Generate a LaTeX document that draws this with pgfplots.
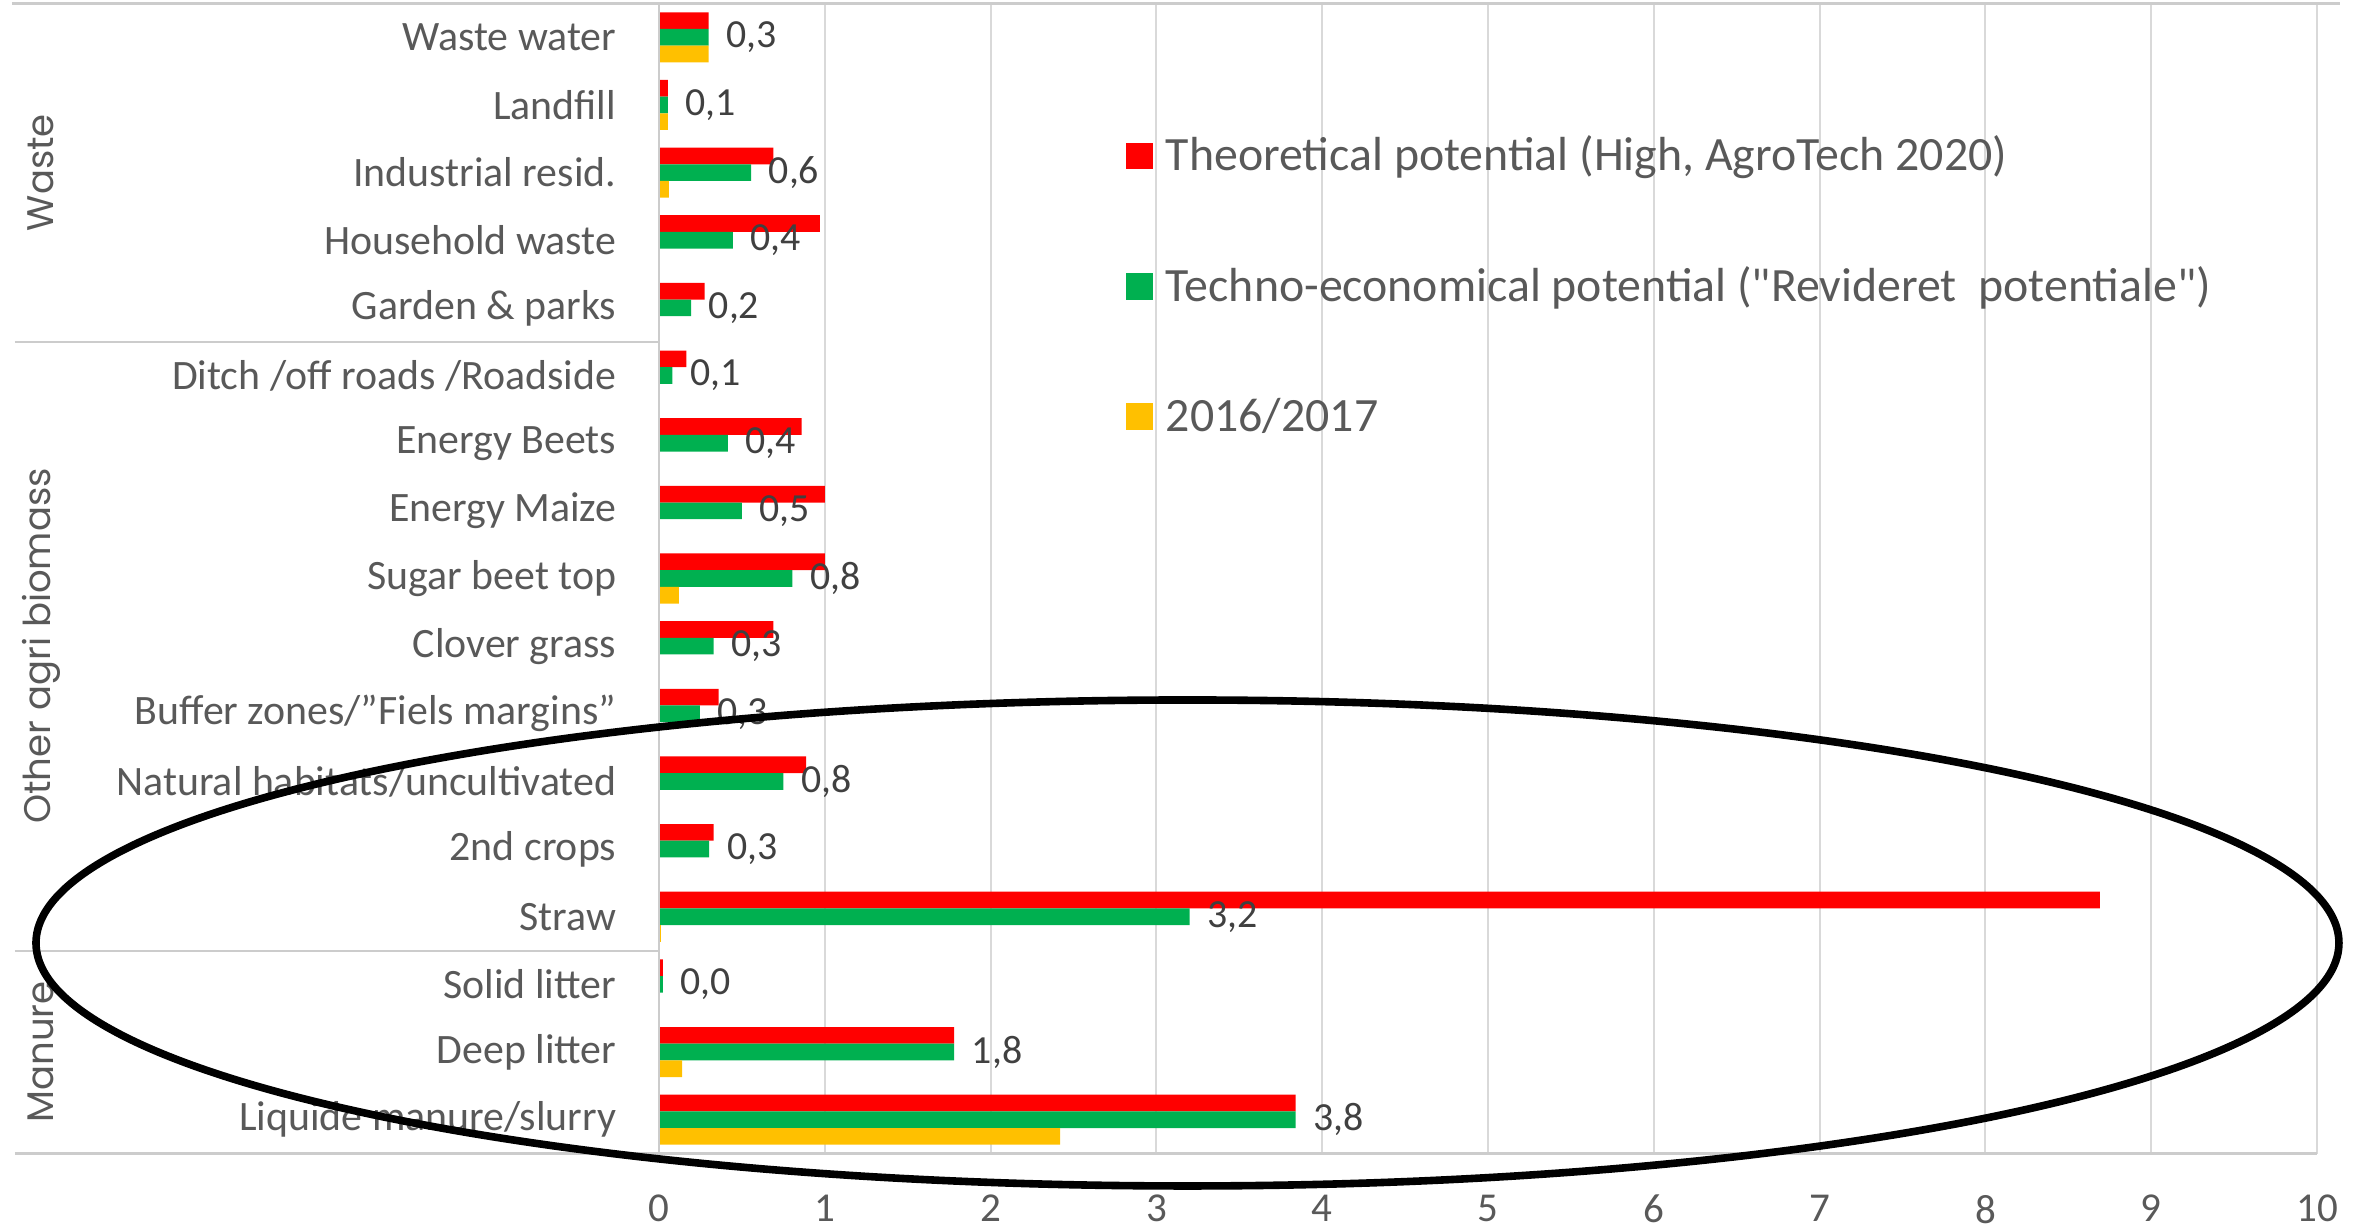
\documentclass[border=0pt]{standalone}
\usepackage{fontspec}
\setmainfont{Carlito}
\newfontfamily\rawcarlito{Carlito}
\newfontfamily\geo{Poppins}
\usepackage{pgfplots}
\usepackage{pgfplotstable}
\pgfplotsset{compat=1.18}
\definecolor{cred}{HTML}{FF0000}
\definecolor{cgreen}{HTML}{00B050}
\definecolor{cyellow}{HTML}{FFC000}
\definecolor{textgray}{HTML}{595959}
\definecolor{labgray}{HTML}{404040}
\definecolor{gridgray}{HTML}{D9D9D9}
\definecolor{axgray}{HTML}{CCCCCC}
\newcommand\dq{{\rawcarlito"}}

\pgfplotstableread{
idx red green yellow lab
16 0.30 0.30 0.30 0,3
15 0.054 0.054 0.054 0,1
14 0.69 0.555 0.06 0,6
13 0.97 0.445 0 0,4
12 0.275 0.193 0 0,2
11 0.165 0.08 0 0,1
10 0.86 0.416 0 0,4
9 1.0 0.50 0 0,5
8 1.0 0.805 0.12 0,8
7 0.69 0.33 0 0,3
6 0.36 0.247 0 0,3
5 0.888 0.75 0 0,8
4 0.33 0.303 0 0,3
3 8.69 3.20 0.012 3,2
2 0.024 0.024 0 0,0
1 1.78 1.78 0.14 1,8
0 3.84 3.84 2.42 3,8
}\data

\pgfplotsset{sqlegend/.style={legend image code/.code={\fill[##1,draw=none] (0bp,-2.45bp) rectangle (6.7bp,4.25bp); \path (9.95bp,0bp);}}}

\begin{document}
\begin{tikzpicture}
\useasboundingbox (0,0) rectangle (593bp,307.25bp);
\begin{axis}[
  at={(164.75bp,18.875bp)}, anchor=south west,
  scale only axis, width=414.5bp, height=287.5bp,
  xmin=0, xmax=10, ymin=-0.5, ymax=16.5,
  xbar, bar width=0.2466,
  every axis plot post/.append style={sqlegend},
  xtick={0,...,10}, ytick={0,...,16},
  yticklabels={Liquide manure/slurry, Deep litter, Solid litter, Straw, 2nd crops, Natural habitats/uncultivated, Buffer zones/”Fiels margins”, Clover grass, Sugar beet top, {Energy Maize\hspace{0.226em}}, Energy Beets, Ditch /off roads /Roadside, Garden \& parks, Household waste, Industrial resid., Landfill, Waste water},
  major tick length=0pt,
  xmajorgrids, grid style={draw=gridgray, line width=0.5bp},
  axis line style={draw=none},
  /pgf/number format/assume math mode=true,
  xticklabel style={font=\fontsize{10.3}{12}\selectfont, text=textgray, anchor=north, inner sep=0pt, yshift=-10.2bp},
  yticklabel style={font=\fontsize{10.5}{12}\selectfont, text=textgray, anchor=east, inner sep=0pt, xshift=-10.5bp},
  legend cell align=left,
  legend style={at={(0.2817,0.8845)}, anchor=north west, draw=none, fill=none, inner sep=0pt, outer sep=0pt, row sep=21bp, font=\fontsize{12}{14.4}\selectfont, text=textgray, nodes={inner sep=0pt, text height=8.6bp, text depth=3bp, anchor=west}},
]
\addplot[fill=cred, draw=none, bar shift=0.2466] table[x=red, y=idx] {\data};
\addplot[fill=cgreen, draw=none, bar shift=0,
  nodes near coords, point meta=explicit symbolic,
  nodes near coords style={anchor=west, inner sep=0pt, xshift=4.25bp, font=\fontsize{10}{12}\selectfont, text=labgray}] table[x=green, y=idx, meta=lab] {\data};
\addplot[fill=cyellow, draw=none, bar shift=-0.2466] table[x=yellow, y=idx] {\data};
\legend{{Theoretical potential (High, AgroTech 2020)}, {Techno-economical potential (\dq Revideret\ \ potentiale\dq)}, {2016/2017}}
\end{axis}
\begin{scope}[x=0.25bp, y=-0.25bp, yshift=307.25bp]
  \draw[axgray, line width=0.6bp] (12,3.5) -- (2340,3.5);
  \draw[axgray, line width=0.6bp] (15,1153.5) -- (2317,1153.5);
  \draw[axgray, line width=0.6bp] (15,341.8) -- (659,341.8);
  \draw[axgray, line width=0.6bp] (15,950.9) -- (659,950.9);
  \draw[axgray, line width=0.5bp] (659,3.5) -- (659,1153.5);
  \node[rotate=90, text=textgray, font=\geo\fontsize{9.3}{11}\selectfont] at (41,172.6) {Waste};
  \node[rotate=90, text=textgray, font=\geo\fontsize{9.3}{11}\selectfont] at (41,646) {Other agri biomass};
  \node[rotate=90, text=textgray, font=\geo\fontsize{9.3}{11}\selectfont] at (41,1052) {Manure};
  \draw[black, line width=1.9bp] (1187.5,943) ellipse [x radius=1151.5, y radius=243];
\end{scope}
\end{tikzpicture}
\end{document}
